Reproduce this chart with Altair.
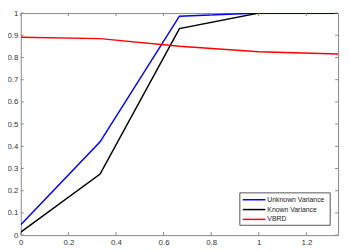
import altair as alt
import pandas as pd

x_vals = [0, 1/3, 2/3, 1, 4/3]
unknown_var = [0.047, 0.42, 0.986, 1.0, 1.0]
known_var = [0.013, 0.275, 0.93, 1.0, 1.0]
vbrd = [0.891, 0.885, 0.851, 0.826, 0.816]
series_names = ["Unknown Variance", "Known Variance", "VBRD"]
series_colors = ["#0000ff", "#000000", "#ff0000"]
x_ticks = [0, 0.2, 0.4, 0.6, 0.8, 1, 1.2]
y_ticks = [0, 0.1, 0.2, 0.3, 0.4, 0.5, 0.6, 0.7, 0.8, 0.9, 1]

rows = []
for name, vals in zip(series_names, [unknown_var, known_var, vbrd]):
    for xv, yv in zip(x_vals, vals):
        rows.append({"x": xv, "y": yv, "series": name})
df = pd.DataFrame(rows)

W, H = 323, 226
FONT = "Liberation Sans"
AX = "#888888"
LBL = "#333333"
TL = 3  # inward tick length

xs = alt.Scale(domain=[0, 4/3], nice=False, zero=False)
ys = alt.Scale(domain=[0, 1], nice=False, zero=False)
cs = alt.Scale(domain=series_names, range=series_colors)

x_axis = alt.Axis(values=x_ticks, title=None, labelFont=FONT,
                  labelFontSize=8, labelColor=LBL, ticks=False, domain=False,
                  labelPadding=4, grid=False, labelFlush=False, labelOverlap=False,
                  format="~g")
y_axis = alt.Axis(values=y_ticks, title=None, labelFont=FONT,
                  labelFontSize=8, labelColor=LBL, ticks=False, domain=False,
                  labelPadding=3, grid=False, labelFlush=False, labelOverlap=False,
                  format="~g")

lines = alt.Chart(df).mark_line(strokeWidth=1.5, clip=True).encode(
    x=alt.X("x:Q", scale=xs, axis=x_axis),
    y=alt.Y("y:Q", scale=ys, axis=y_axis),
    color=alt.Color("series:N", scale=cs, legend=None),
    order=alt.Order("x:Q"),
    detail="series:N",
)

xt = pd.DataFrame({"t": x_ticks})
yt = pd.DataFrame({"t": y_ticks})

tick_bottom = alt.Chart(xt).mark_rule(color=AX, strokeWidth=1).encode(
    x=alt.X("t:Q", scale=xs, axis=x_axis), y=alt.value(H), y2=alt.value(H - TL))
tick_top = alt.Chart(xt).mark_rule(color=AX, strokeWidth=1).encode(
    x=alt.X("t:Q", scale=xs, axis=x_axis), y=alt.value(0), y2=alt.value(TL))
tick_left = alt.Chart(yt).mark_rule(color=AX, strokeWidth=1).encode(
    y=alt.Y("t:Q", scale=ys, axis=y_axis), x=alt.value(0), x2=alt.value(TL))
tick_right = alt.Chart(yt).mark_rule(color=AX, strokeWidth=1).encode(
    y=alt.Y("t:Q", scale=ys, axis=y_axis), x=alt.value(W), x2=alt.value(W - TL))

# manual MATLAB-style legend box
LX0, LX1, LY0, LY1 = 223, 315, 183, 216
leg_df = pd.DataFrame({"series": series_names, "rank": [0, 1, 2]})
leg_box = alt.Chart(pd.DataFrame({"a": [0]})).mark_rect(
    fill="white", stroke="#555555", strokeWidth=1).encode(
    x=alt.value(LX0), x2=alt.value(LX1), y=alt.value(LY0), y2=alt.value(LY1))
leg_base = alt.Chart(leg_df).transform_calculate(py=f"{LY0 + 7} + datum.rank * 10")
leg_lines = leg_base.mark_rule(strokeWidth=1.5).encode(
    x=alt.value(LX0 + 3), x2=alt.value(LX0 + 26),
    y=alt.Y("py:Q", scale=None),
    color=alt.Color("series:N", scale=cs, legend=None))
leg_text = leg_base.mark_text(align="left", baseline="middle", font=FONT,
                              fontSize=7, color="#222222").encode(
    x=alt.value(LX0 + 28), y=alt.Y("py:Q", scale=None), text="series:N")

chart = alt.layer(
    lines, tick_bottom, tick_top, tick_left, tick_right, leg_box, leg_lines, leg_text
).properties(width=W, height=H).configure_view(stroke=AX, strokeWidth=1).properties(
    autosize=alt.AutoSizeParams(type="none"),
    padding={"left": 13, "top": 3, "right": 4, "bottom": 14},
)

chart.save("out.html", embed_options={"renderer": "svg", "actions": False})
